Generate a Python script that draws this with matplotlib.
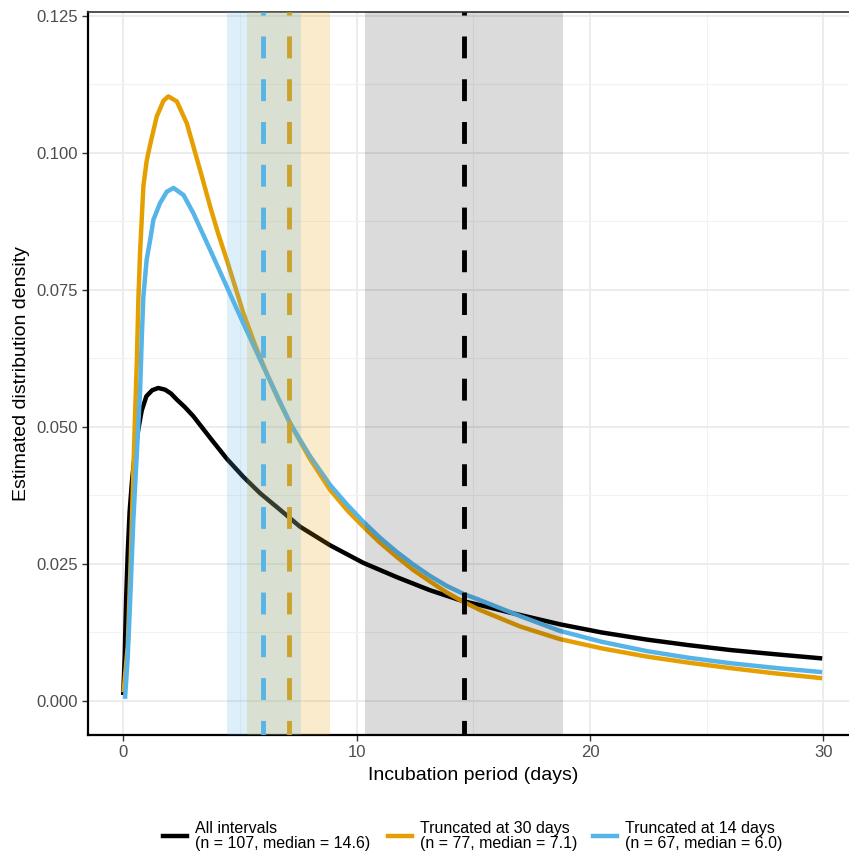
import matplotlib
matplotlib.use("Agg")
import matplotlib.pyplot as plt

plt.rcParams['font.family'] = ['Liberation Sans', 'DejaVu Sans']

# density curves (days, density)
days_all = [0.01, 0.07, 0.13, 0.2, 0.28, 0.38, 0.5, 0.65, 0.8, 1.0, 1.25, 1.51, 1.8,
            2.05, 2.3, 2.65, 3.0, 3.73, 4.44, 5.15, 5.87, 6.72, 7.58, 8.87, 10.29,
            11.72, 13.15, 14.57, 15.29, 16.5, 18.7, 20.5, 22.43, 24.2, 26.0, 28.0, 29.85]
dens_all = [0.0015, 0.008, 0.0184, 0.027, 0.0345, 0.04, 0.045, 0.0495, 0.053, 0.0556,
            0.0567, 0.0571, 0.0568, 0.0561, 0.055, 0.0536, 0.052, 0.048, 0.0442, 0.0409,
            0.0379, 0.0349, 0.0318, 0.0284, 0.0252, 0.0226, 0.0202, 0.0182, 0.0175,
            0.0162, 0.014, 0.0125, 0.0112, 0.0102, 0.0093, 0.0085, 0.0078]

days_30 = [0.03, 0.2, 0.33, 0.44, 0.52, 0.59, 0.66, 0.73, 0.87, 1.01, 1.16, 1.44, 1.73,
           1.94, 2.3, 2.73, 3.01, 3.37, 3.73, 4.08, 4.44, 4.8, 5.15, 5.65, 6.15, 6.65,
           7.15, 8.0, 8.87, 9.6, 10.29, 11.0, 11.72, 12.43, 13.15, 13.86, 14.57, 15.29,
           17.0, 18.7, 20.5, 22.43, 24.2, 26.0, 28.0, 29.85]
dens_30 = [0.002, 0.01, 0.026, 0.042, 0.053, 0.062, 0.0738, 0.082, 0.0939, 0.0985,
           0.1015, 0.1066, 0.1095, 0.1103, 0.1094, 0.1054, 0.1012, 0.0958, 0.0902,
           0.0852, 0.0805, 0.0756, 0.0708, 0.065, 0.0598, 0.055, 0.0507, 0.0442,
           0.0385, 0.0348, 0.0318, 0.0289, 0.0263, 0.0239, 0.0218, 0.0198, 0.0181,
           0.0166, 0.0136, 0.0113, 0.0096, 0.0081, 0.007, 0.006, 0.005, 0.0042]

days_14 = [0.09, 0.2, 0.3, 0.44, 0.59, 0.73, 0.8, 0.87, 1.01, 1.16, 1.3, 1.58, 1.87,
           2.16, 2.59, 3.01, 3.73, 4.44, 5.15, 6.01, 7.15, 8.0, 8.87, 9.6, 10.29, 11.0,
           11.72, 12.43, 13.15, 13.86, 14.6, 15.29, 17.0, 18.7, 20.5, 22.43, 24.2,
           26.0, 28.0, 29.85]
dens_14 = [0.0008, 0.008, 0.0179, 0.033, 0.0452, 0.0567, 0.066, 0.0738, 0.0805, 0.0841,
           0.0878, 0.0908, 0.0929, 0.0936, 0.0923, 0.089, 0.0823, 0.0756, 0.0689, 0.061,
           0.0507, 0.0447, 0.0394, 0.0358, 0.0327, 0.0298, 0.0272, 0.0249, 0.0228,
           0.021, 0.0195, 0.0184, 0.0155, 0.0128, 0.0108, 0.0091, 0.0079, 0.0069,
           0.006, 0.0053]

# medians and intervals (days)
medians = [14.6, 7.1, 6.0]
ci_low = [10.36, 5.31, 4.45]
ci_high = [18.84, 8.87, 7.62]

labels = ["All intervals\n(n = 107, median = 14.6)",
          "Truncated at 30 days\n(n = 77, median = 7.1)",
          "Truncated at 14 days\n(n = 67, median = 6.0)"]
colors = ["black", "#E69F00", "#56B4E9"]
band_alpha = [0.14, 0.2, 0.2]

fig = plt.figure(figsize=(8.49, 8.56), dpi=100)
ax = fig.add_axes([0.1037, 0.1414, 0.9075, 0.8446])

curves = [(days_all, dens_all), (days_30, dens_30), (days_14, dens_14)]
handles = []
for (d, v), c, lab in zip(curves, colors, labels):
    h, = ax.plot(d, v, color=c, lw=3.2, label=lab, zorder=2)
    handles.append(h)

for m, lo, hi, c, a in zip(medians, ci_low, ci_high, colors, band_alpha):
    ax.axvspan(lo, hi, color=c, alpha=a, lw=0, zorder=3)
    ax.axvline(m, color=c, lw=3.5, linestyle=(1.5, (4.5, 4.3)), zorder=3)

ax.set_xlim(-1.5, 31.5)
ax.set_ylim(-0.0062, 0.1257)
ax.set_xticks([0, 10, 20, 30])
ax.set_xticks([5, 15, 25], minor=True)
ax.set_yticks([0, 0.025, 0.05, 0.075, 0.1, 0.125])
ax.set_yticks([0.0125, 0.0375, 0.0625, 0.0875, 0.1125], minor=True)
ax.set_yticklabels(["0.000", "0.025", "0.050", "0.075", "0.100", "0.125"])
ax.grid(which='major', color='#EBEBEB', lw=1.3, zorder=0)
ax.grid(which='minor', color='#F2F2F2', lw=0.8, zorder=0)
ax.set_axisbelow(True)

ax.tick_params(which='major', length=4, width=1, color='#333333',
               labelsize=12, labelcolor='#4D4D4D', pad=3)
ax.tick_params(which='minor', length=0)
for s in ax.spines.values():
    s.set_color('#333333')
    s.set_linewidth(1.2)
ax.spines['left'].set_color('black')
ax.spines['bottom'].set_color('black')
ax.spines['left'].set_linewidth(1.6)
ax.spines['bottom'].set_linewidth(1.6)

ax.set_xlabel("Incubation period (days)", fontsize=14, labelpad=5)
ax.set_ylabel("Estimated distribution density", fontsize=14, labelpad=5)

# one legend entry per key, placed like the reference's bottom legend
key_x = [163 / 849, 388 / 849, 593 / 849]
for h, lab, kx in zip(handles, labels, key_x):
    leg = fig.legend(handles=[h], labels=[lab], loc='center left',
                     bbox_to_anchor=(kx, 1 - 836 / 856), frameon=False,
                     fontsize=11.5, handlelength=1.5, handletextpad=0.5,
                     borderpad=0, borderaxespad=0)
    for t in leg.get_texts():
        t.set_linespacing(0.95)

fig.savefig("out.png", dpi=100)
